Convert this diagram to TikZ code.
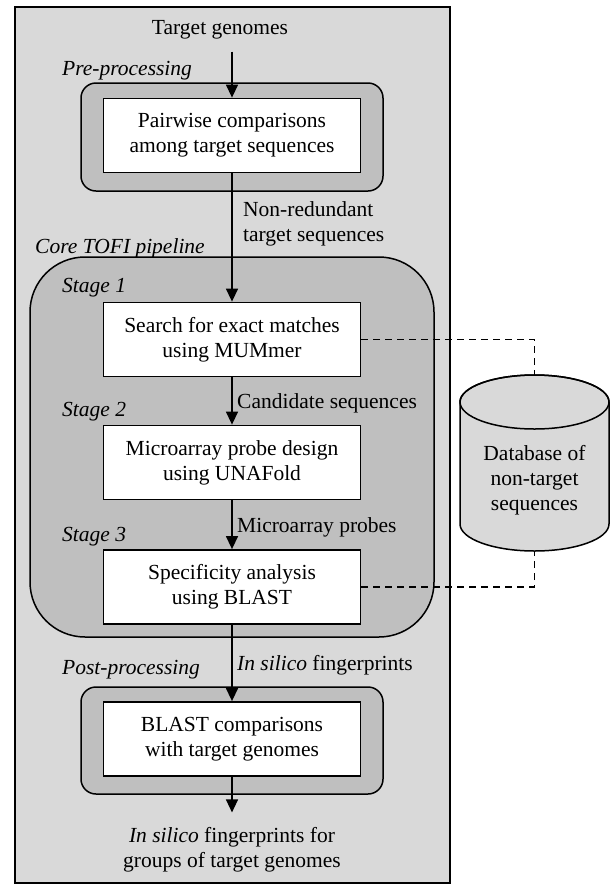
\documentclass[tikz,border=0pt]{standalone}
\usepackage{fontspec}
\setmainfont{Liberation Serif}
\usepackage{tikz}
\usetikzlibrary{arrows.meta}
\definecolor{outergray}{HTML}{D9D9D9}
\definecolor{stagegray}{HTML}{BFBFBF}
\tikzstyle{box} = [draw, fill=white, line width=1.8pt, minimum width=257pt, minimum height=74pt, align=center]
\tikzstyle{frame} = [draw, line width=1.5pt, fill=stagegray]
\tikzstyle{arrow} = [line width=1.4pt, -{Triangle[length=13pt,width=12pt]}]
\tikzstyle{link} = [line width=1.5pt, dash pattern=on 7pt off 5pt]

\begin{document}
\begin{tikzpicture}[x=1pt, y=-1pt, every node/.style={font=\fontsize{21.5}{25}\selectfont, inner sep=0pt}]
            \useasboundingbox (0,0) rectangle (610,884);
            \draw[line width=1.5pt, fill=outergray] (15,7) rectangle (450,883);
            \draw[frame, rounded corners=15pt] (81,83) rectangle (383,191);
            \draw[frame, rounded corners=55pt] (30,257) rectangle (434,637);
            \draw[frame, rounded corners=15pt] (81,687) rectangle (383,794);

            \node (tg) at (220,30) {Target genomes};
            \node[anchor=west] (prelbl) at (62,71) {\textit{Pre-processing}};
            \node[box] (pairwise) at (232,135.5) {Pairwise comparisons\\among target sequences};
            \node[anchor=west, align=left] (nrlbl) at (243,224) {Non-redundant\\target sequences};
            \node[anchor=west] (corelbl) at (35,248) {\textit{Core TOFI pipeline}};

            \node[anchor=west] (st1) at (62,288) {\textit{Stage 1}};
            \node[box] (search) at (232,339.5) {Search for exact matches\\using MUMmer};
            \node[anchor=west] (candlbl) at (237,403) {Candidate sequences};
            \node[anchor=west] (st2) at (62,412) {\textit{Stage 2}};
            \node[box] (micro) at (232,462.5) {Microarray probe design\\using UNAFold};
            \node[anchor=west] (problbl) at (237,527) {Microarray probes};
            \node[anchor=west] (st3) at (62,537) {\textit{Stage 3}};
            \node[box] (spec) at (232,587) {Specificity analysis\\using BLAST};

            \node[anchor=west] (fplbl) at (237,665) {\textit{In silico} fingerprints};
            \node[anchor=west] (postlbl) at (62,670) {\textit{Post-processing}};
            \node[box] (blastcmp) at (232,739) {BLAST comparisons\\with target genomes};
            \node[align=center] (out) at (232,850) {\textit{In silico} fingerprints for\\groups of target genomes};

            % database of non-target sequences
            \draw[line width=1.5pt, fill=outergray] (460,402) -- (460,524) arc (180:0:74.5 and 27)
                -- (609,402) arc (0:-180:74.5 and 27) -- cycle;
            \draw[line width=1.5pt] (534.5,402) ellipse (74.5 and 27);
            \node[align=center] (db) at (534.5,480.5) {Database of\\non-target\\sequences};
            \coordinate (dbtop) at (534.5,375);
            \coordinate (dbbot) at (534.5,551);

            \draw[arrow, shorten <=12pt] (tg.south -| pairwise.north) -- (pairwise.north);
            \draw[arrow] (pairwise) -- (search);
            \draw[arrow] (search) -- (micro);
            \draw[arrow] (micro) -- (spec);
            \draw[arrow] (spec) -- (blastcmp);
            \draw[arrow, shorten >=15pt] (blastcmp.south) -- (blastcmp.south |- out.north);
            \draw[link] (search.east) -| (dbtop);
            \draw[link] (spec.east) -| (dbbot);
        \end{tikzpicture}
\end{document}
